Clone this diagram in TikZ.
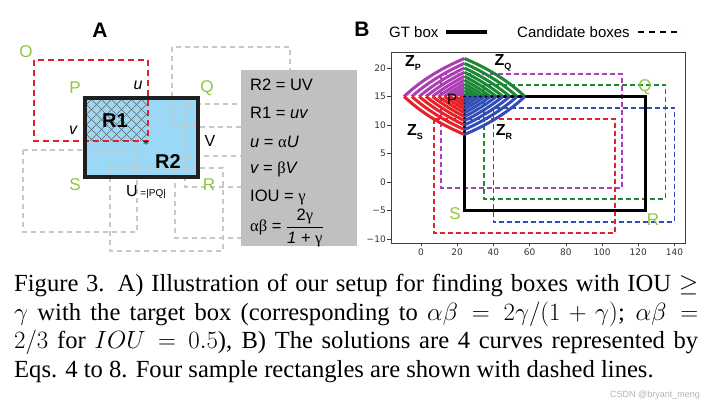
\documentclass[tikz,border=0pt]{standalone}
\usepackage{fontspec}
\setmainfont{Liberation Serif}
\setsansfont{Liberation Sans}
\newfontfamily\tickfont{DejaVu Sans}
\newfontfamily\grk{Liberation Serif}
\definecolor{lblgreen}{RGB}{141,198,63}
\definecolor{boxblue}{RGB}{155,216,245}
\definecolor{panelgray}{RGB}{192,192,192}
\definecolor{candgray}{RGB}{200,200,200}
\definecolor{iouRed}{RGB}{232,30,38}
\definecolor{zPurple}{RGB}{170,62,178}
\definecolor{zGreen}{RGB}{28,136,54}
\definecolor{zBlue}{RGB}{50,78,182}
\definecolor{zRed}{RGB}{232,32,40}
\newcommand{\zcurves}[3]{%
  \foreach \k in {0,...,9}{
    \pgfmathsetmacro\cval{2*(0.5+0.05*\k)/(1.5+0.05*\k)}
    \pgfmathsetmacro\tip{100*(1-\cval)}
    \draw[#3,line width=3pt] plot[domain=0:\tip,samples=30]
      ({24+#1*\x},{15+#2*20*(1-\cval/(1-\x/100))});
  }}
\begin{document}
\begin{tikzpicture}[x=1pt,y=-1pt,
  graybox/.style={candgray,line width=1.4pt,dash pattern=on 5pt off 4pt},
  redbox/.style={iouRed,line width=2pt,dash pattern=on 6pt off 4pt},
  candbox/.style={line width=1.8pt,dash pattern=on 5pt off 3pt},
  hatchline/.style={black!60,line width=0.7pt},
  ptlabel/.style={lblgreen,font=\sffamily\fontsize{17}{17}\selectfont,inner sep=0pt},
  sidelabel/.style={font=\sffamily\fontsize{16}{16}\selectfont,inner sep=0pt},
  regionlabel/.style={font=\sffamily\bfseries\fontsize{20}{20}\selectfont,inner sep=0pt},
  panellabel/.style={font=\sffamily\bfseries\fontsize{21}{21}\selectfont,inner sep=0pt},
  eqtext/.style={font=\sffamily\fontsize{16.5}{16.5}\selectfont,inner sep=0pt,anchor=west},
  legtext/.style={font=\sffamily\fontsize{15}{15}\selectfont,inner sep=0pt,anchor=west},
  ticktext/.style={font=\tickfont\fontsize{9}{9}\selectfont,text=black!80,inner sep=0pt},
  zlabel/.style={font=\sffamily\bfseries\fontsize{16}{16}\selectfont,inner sep=0pt},
  captext/.style={font=\rmfamily\fontsize{24.6}{29}\selectfont,inner sep=0pt,anchor=base west}]
\useasboundingbox (0,0) rectangle (710,404);

\fill[boxblue] (85,98) rectangle (198,177);
\begin{scope}
\clip (85,98) rectangle (148,141);
\foreach \k in {-60,-50,...,160}{
  \draw[hatchline] (\k,98) -- ++(50,50);
  \draw[hatchline] (\k,141) -- ++(50,-50);
}
\end{scope}

\draw[graybox] (172,47) rectangle (290,127);
\draw[graybox] (185,104) rectangle (290,187);
\draw[graybox] (175,156) rectangle (290,238);
\draw[graybox] (23,150) rectangle (137,232);
\draw[graybox] (110,168) rectangle (223,251);

\draw[redbox] (34,60) rectangle (148,141);
\draw[black!88,line width=4pt] (85,98) rectangle (198,177);

\node[panellabel] (labA) at (100,30) {A};
\node[ptlabel] (ptO) at (26,52) {O};
\node[ptlabel] (ptP) at (75,88) {P};
\node[ptlabel] (ptQ) at (207,88) {Q};
\node[ptlabel] (ptS) at (75,185) {S};
\node[ptlabel] (ptR) at (209,185) {R};
\node[sidelabel] (smallu) at (138,85) {\itshape u};
\node[sidelabel] (smallv) at (73,130) {\itshape v};
\node[sidelabel] (bigV) at (210,141) {V};
\node[sidelabel,anchor=west] (bigU) at (126,192) {U\,{\fontsize{10}{10}\selectfont =|PQ|}};
\node[regionlabel] (regA) at (115,121) {R1};
\node[regionlabel] (regB) at (168,162) {R2};
\node[inner sep=0pt,font=\fontsize{12}{12}\selectfont] (star) at (146,145) {*};

\fill[panelgray] (241,70) rectangle (357,246);
\node[eqtext] (eqone) at (250,85) {R2 = UV};
\node[eqtext] (eqtwo) at (250,113) {R1 = \itshape uv};
\node[eqtext] (eqthree) at (250,142) {\itshape u\upshape{} = {\grk α}\itshape U};
\node[eqtext] (eqfour) at (250,169) {\itshape v\upshape{} = {\grk β}\itshape V};
\node[eqtext] (eqfive) at (250,197) {IOU = {\grk γ}};
\node[eqtext] (eqsix) at (250,228) {{\grk αβ} = $\displaystyle\frac{\mbox{2{\grk γ}}}{\mbox{\itshape 1 + \upshape{\grk γ}}}$};

\node[panellabel] (labB) at (362,29) {B};
\node[legtext] (legGT) at (389,32) {GT box};
\draw[black,line width=4pt] (446,32) -- (487,32);
\node[legtext] (legCand) at (517,32) {Candidate boxes};
\draw[black,line width=1.5pt,dash pattern=on 6pt off 5pt] (638,32) -- (682,32);

\begin{scope}[shift={(421,182)},x=1.811pt,y=5.7pt]
\draw[black!75,line width=0.8pt] (-16.6,-10.7) rectangle (145.8,22.8);
\foreach \v in {-10,-5,...,20}{
  \draw[black!75,line width=0.7pt] (-16.6,\v) -- ++(-3.5pt,0);
  \node[ticktext,anchor=east] (yt\v) at ([xshift=-5pt]-16.6,\v) {\ifnum\v<0 −\the\numexpr-\v\relax\else\v\fi};
}
\foreach \u in {0,20,...,140}{
  \draw[black!75,line width=0.7pt] (\u,-10.7) -- ++(0,-3.5pt);
  \node[ticktext,anchor=north] (xt\u) at ([yshift=-6pt]\u,-10.7) {\u};
}

\draw[zPurple,candbox] (11,19) rectangle (111,-1);
\draw[zGreen,candbox] (35,17) rectangle (135,-3);
\draw[zBlue,candbox] (40,13) rectangle (140,-7);
\draw[zRed,candbox] (7,11) rectangle (107,-9);
\draw[black,line width=3.5pt] (24,15) rectangle (124,-5);

\zcurves{-1}{1}{zPurple}
\zcurves{1}{1}{zGreen}
\zcurves{-1}{-1}{zRed}
\zcurves{1}{-1}{zBlue}
\end{scope}

\node[inner sep=0pt,font=\sffamily\fontsize{15}{15}\selectfont] (ptPB) at (452,99) {P};
\node[zlabel] (zP) at (413,63) {Z\raisebox{-4pt}{\fontsize{9}{9}\selectfont P}};
\node[zlabel] (zQ) at (503,63) {Z\raisebox{-4pt}{\fontsize{9}{9}\selectfont Q}};
\node[zlabel] (zS) at (415,132) {Z\raisebox{-4pt}{\fontsize{9}{9}\selectfont S}};
\node[zlabel] (zR) at (504,132) {Z\raisebox{-4pt}{\fontsize{9}{9}\selectfont R}};
\node[ptlabel] (ptQB) at (645,87) {Q};
\node[ptlabel] (ptSB) at (455,214) {S};
\node[ptlabel] (ptRB) at (653,220) {R};

\node[captext] (capone) at (14,291) {\makebox[684pt][s]{Figure 3. A) Illustration of our setup for finding boxes with IOU $\geq$}};
\node[captext] (captwo) at (14,320) {\makebox[684pt][s]{$\gamma$ with the target box (corresponding to $\alpha\beta = 2\gamma/(1+\gamma)$; $\alpha\beta =$}};
\node[captext] (capthree) at (14,348) {\makebox[684pt][s]{$2/3$ for $IOU = 0.5$), B) The solutions are 4 curves represented by}};
\node[captext] (capfour) at (14,377) {Eqs. 4 to 8. Four sample rectangles are shown with dashed lines.};
\node[anchor=east,inner sep=0pt,font=\sffamily\fontsize{9}{9}\selectfont,text=gray!60] (mark) at (700,395) {CSDN @bryant\_meng};

\end{tikzpicture}
\end{document}
